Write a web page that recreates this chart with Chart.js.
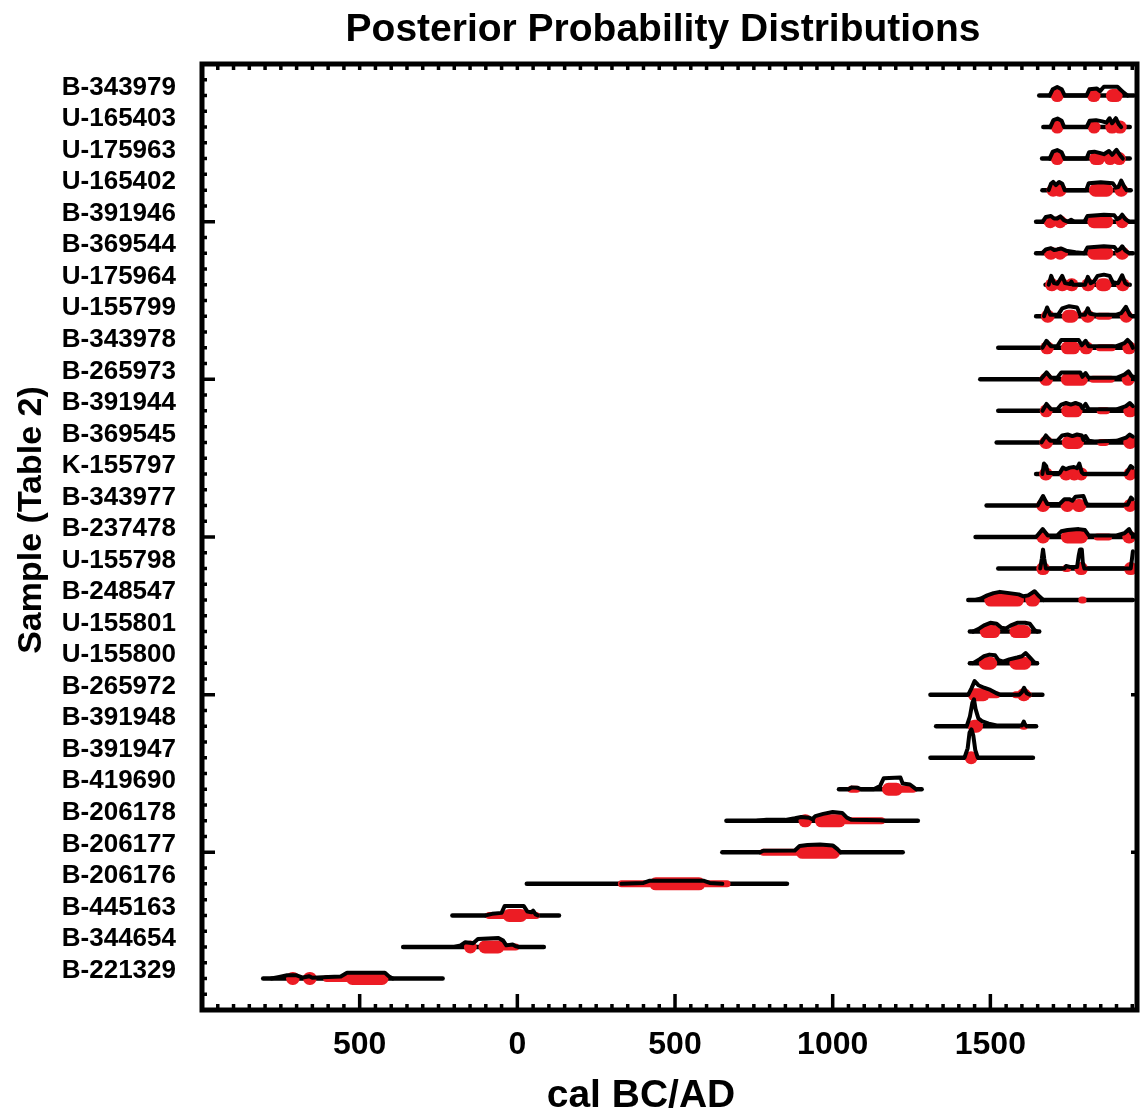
<!DOCTYPE html>
<html><head><meta charset="utf-8">
<script src="https://cdn.jsdelivr.net/npm/chart.js@4.4.1/dist/chart.umd.min.js"></script>
<style>html,body{margin:0;padding:0;background:#fff;}canvas{display:block;}</style>
</head><body>
<canvas id="c" width="1140" height="1110"></canvas>
<script>
// ---------- DATA ----------
const sampleNames = ['B-343979','U-165403','U-175963','U-165402','B-391946','B-369544','U-175964','U-155799','B-343978','B-265973','B-391944','B-369545','K-155797','B-343977','B-237478','U-155798','B-248547','U-155801','U-155800','B-265972','B-391948','B-391947','B-419690','B-206178','B-206177','B-206176','B-445163','B-344654','B-221329'];

// full extent of each distribution (cal BC/AD, BC negative)
const rangeStart = [1655,1668,1664,1665,1645,1645,1675,1645,1525,1468,1525,1520,1645,1488,1453,1525,1430,1435,1435,1310,1328,1310,1020,663,650,30,-206,-362,-806];
const rangeEnd   = [1955,1942,1942,1945,1963,1952,1942,1958,1952,1963,1952,1952,1952,1952,1963,1952,1952,1655,1648,1665,1645,1635,1282,1270,1222,855,132,84,-237];

// probability curve outline: [year, relative height]
const curves = [
 [[1688,0],[1698,0.2],[1712,0.27],[1726,0.2],[1736,0],[1805,0],[1814,0.2],[1838,0.22],[1848,0.14],[1860,0.28],[1903,0.28],[1922,0.1],[1935,0]],
 [[1690,0],[1700,0.22],[1713,0.27],[1726,0.2],[1734,0],[1805,0],[1815,0.2],[1835,0.22],[1855,0.18],[1868,0.14],[1878,0.28],[1886,0.12],[1898,0.28],[1908,0.08],[1915,0]],
 [[1688,0],[1698,0.22],[1712,0.27],[1726,0.2],[1735,0],[1805,0],[1813,0.2],[1830,0.22],[1846,0.18],[1860,0.14],[1876,0.24],[1886,0.12],[1900,0.28],[1912,0.1],[1920,0]],
 [[1685,0],[1692,0.2],[1699,0.26],[1708,0.16],[1718,0.26],[1728,0.2],[1736,0],[1804,0],[1812,0.22],[1850,0.25],[1888,0.22],[1898,0.08],[1906,0.1],[1915,0.3],[1925,0.1],[1932,0]],
 [[1666,0],[1676,0.15],[1692,0.18],[1702,0.1],[1712,0.1],[1722,0.17],[1733,0.05],[1745,0],[1756,0.06],[1766,0],[1798,0],[1808,0.18],[1860,0.22],[1893,0.2],[1902,0.08],[1910,0.12],[1918,0.22],[1928,0.08],[1940,0]],
 [[1664,0],[1676,0.12],[1692,0.16],[1702,0.1],[1712,0.12],[1725,0.15],[1740,0.08],[1770,0.03],[1798,0],[1808,0.18],[1860,0.22],[1893,0.2],[1902,0.08],[1910,0.12],[1918,0.22],[1928,0.08],[1940,0]],
 [[1685,0],[1693,0.28],[1702,0.05],[1712,0.03],[1720,0.15],[1728,0.28],[1737,0.05],[1752,0.02],[1757,0.1],[1762,0],[1800,0],[1809,0.25],[1818,0.05],[1828,0.1],[1840,0.28],[1860,0.32],[1878,0.28],[1888,0.08],[1905,0.05],[1918,0.3],[1928,0.05],[1935,0]],
 [[1670,0],[1680,0.28],[1690,0.05],[1715,0.05],[1728,0.25],[1750,0.32],[1775,0.28],[1785,0.05],[1800,0.05],[1809,0.25],[1816,0.08],[1835,0.05],[1900,0.05],[1915,0.1],[1930,0.3],[1942,0.05],[1950,0]],
 [[1665,0],[1678,0.22],[1692,0.05],[1712,0.05],[1725,0.25],[1780,0.25],[1790,0.08],[1802,0.22],[1812,0.05],[1830,0.05],[1900,0.05],[1925,0.15],[1935,0.25],[1945,0.15],[1952,0]],
 [[1660,0],[1678,0.22],[1692,0.05],[1712,0.05],[1725,0.22],[1785,0.22],[1792,0.08],[1802,0.2],[1812,0.05],[1830,0.05],[1900,0.05],[1925,0.15],[1938,0.25],[1948,0.1],[1963,0.05]],
 [[1665,0],[1678,0.22],[1692,0.05],[1712,0.05],[1725,0.2],[1740,0.25],[1755,0.2],[1770,0.25],[1785,0.2],[1792,0.08],[1802,0.22],[1812,0.05],[1830,0.05],[1900,0.05],[1930,0.15],[1942,0.25],[1952,0.15]],
 [[1662,0],[1676,0.22],[1690,0.05],[1712,0.05],[1728,0.22],[1745,0.25],[1760,0.2],[1775,0.25],[1790,0.22],[1795,0.08],[1802,0.2],[1812,0.05],[1830,0.03],[1900,0.05],[1930,0.15],[1942,0.25],[1952,0.18]],
 [[1665,0],[1670,0.33],[1677,0.25],[1682,0.03],[1720,0.03],[1730,0.2],[1740,0.15],[1752,0.2],[1765,0.22],[1775,0.18],[1782,0.33],[1790,0.05],[1795,0],[1930,0],[1945,0.25],[1951,0.2]],
 [[1650,0],[1667,0.3],[1680,0.05],[1720,0.05],[1735,0.2],[1750,0.2],[1760,0.15],[1770,0.28],[1795,0.3],[1805,0.05],[1815,0.02],[1935,0.02],[1946,0.25],[1951,0.2]],
 [[1645,0],[1666,0.25],[1682,0.05],[1712,0.05],[1725,0.18],[1745,0.22],[1780,0.25],[1800,0.22],[1812,0.05],[1900,0.05],[1925,0.12],[1940,0.25],[1948,0.1],[1963,0.05]],
 [[1658,0],[1663,0.3],[1667,0.6],[1671,0.3],[1676,0],[1735,0],[1740,0.08],[1752,0.05],[1775,0.05],[1780,0.4],[1784,0.6],[1790,0.6],[1793,0.2],[1798,0],[1945,0],[1949,0.3],[1952,0.55]],
 [[1450,0],[1470,0.05],[1490,0.15],[1510,0.22],[1530,0.26],[1560,0.22],[1590,0.18],[1605,0.12],[1620,0.15],[1640,0.28],[1655,0.12],[1668,0]],
 [[1445,0],[1465,0.1],[1480,0.2],[1500,0.28],[1520,0.25],[1535,0.12],[1550,0.1],[1565,0.2],[1585,0.28],[1610,0.28],[1625,0.25],[1640,0.05],[1648,0]],
 [[1445,0],[1465,0.12],[1480,0.22],[1497,0.27],[1515,0.25],[1525,0.1],[1540,0.05],[1560,0.12],[1585,0.18],[1600,0.22],[1612,0.32],[1625,0.18],[1640,0.02],[1648,0]],
 [[1430,0],[1440,0.2],[1450,0.43],[1462,0.3],[1480,0.22],[1500,0.15],[1518,0.05],[1530,0],[1592,0],[1600,0.08],[1607,0.22],[1615,0.05],[1625,0]],
 [[1425,0],[1435,0.3],[1443,0.75],[1448,0.85],[1453,0.55],[1462,0.25],[1475,0.15],[1495,0.08],[1520,0.02],[1600,0.02],[1606,0.15],[1610,0.05],[1615,0]],
 [[1418,0],[1428,0.3],[1434,0.8],[1440,0.9],[1446,0.7],[1452,0.25],[1460,0]],
 [[1050,0],[1060,0.06],[1078,0.05],[1090,0],[1130,0],[1150,0.1],[1162,0.35],[1215,0.37],[1222,0.18],[1245,0.15],[1258,0.05],[1265,0]],
 [[760,0],[790,0.03],[850,0.03],[880,0.08],[900,0.12],[925,0.1],[935,0.05],[945,0.15],[970,0.22],[1000,0.28],[1030,0.25],[1045,0.1],[1060,0.03],[1150,0.02],[1165,0]],
 [[770,0],[780,0.05],[880,0.06],[895,0.2],[920,0.23],[960,0.25],[1000,0.22],[1015,0.1],[1025,0]],
 [[330,0],[400,0.03],[420,0.1],[590,0.1],[610,0.03],[650,0]],
 [[-100,0],[-80,0.05],[-50,0.08],[-40,0.3],[20,0.3],[32,0.12],[45,0.1],[50,0.15],[58,0.03],[65,0]],
 [[-200,0],[-180,0.05],[-165,0.15],[-140,0.12],[-125,0.25],[-60,0.28],[-45,0.2],[-35,0.05],[-15,0.08],[-5,0.02],[5,0]],
 [[-780,0],[-755,0.05],[-730,0.1],[-700,0.1],[-680,0.03],[-660,0.07],[-650,0.02],[-600,0.05],[-560,0.06],[-540,0.18],[-420,0.18],[-405,0.05],[-395,0]]
];

// core of the high-probability (red) ranges, drawn as rounded blobs
const redThick = [
 [[1712,1714],[1827,1829],[1887,1899]],
 [[1712,1714],[1829,1831],[1885,1887],[1910,1912]],
 [[1712,1714],[1834,1843],[1880,1882],[1909,1911]],
 [[1699,1701],[1719,1721],[1833,1869],[1914,1916]],
 [[1690,1692],[1721,1723],[1828,1869],[1918,1920]],
 [[1691,1693],[1721,1723],[1828,1869],[1917,1919]],
 [[1694,1696],[1727,1729],[1757,1759],[1809,1811],[1854,1864],[1919,1921]],
 [[1681,1683],[1747,1759],[1808,1810],[1931,1933]],
 [[1679,1681],[1744,1764],[1803,1805],[1939,1941]],
 [[1676,1678],[1744,1789],[1937,1939]],
 [[1677,1679],[1745,1772],[1942,1944]],
 [[1676,1678],[1747,1776],[1942,1944]],
 [[1675,1677],[1739,1741],[1765,1767],[1788,1790],[1943,1945]],
 [[1666,1668],[1743,1745],[1779,1784],[1943,1945]],
 [[1666,1668],[1744,1789],[1939,1941]],
 [[1666,1668],[1787,1789],[1944,1946]],
 [[1501,1586],[1631,1637]],
 [[1487,1511],[1581,1609]],
 [[1484,1501],[1581,1609]],
 [[1449,1478],[1605,1607]],
 [[1449,1456]],
 [[1439,1441]],
 [[1177,1202]],
 [[912,914],[964,1021]],
 [[904,1003]],
 [[439,576]],
 [[-26,11]],
 [[-149,-147],[-103,-61]],
 [[-713,-711],[-659,-657],[-523,-429]]
];
// lower-probability (thin red) ranges
const redThin = [
 [],[],[],[],
 [[1680,1735]],[[1682,1735]],
 [],
 [[1845,1875]],[[1846,1886]],[[1825,1883]],[[1848,1868]],[[1850,1865]],
 [],[],
 [[1839,1875]],
 [[1738,1745]],
 [[1790,1794]],[],[],
 [[1497,1520],[1580,1620]],
 [[1604,1608]],[],
 [[1058,1076],[1221,1255]],
 [[1040,1155]],
 [[780,885]],
 [[330,665]],
 [[-90,60]],
 [[-42,-5]],
 [[-605,-542]]
];

const xTickValues = [-500, 0, 500, 1000, 1500];
const xTickLabels = ['500', '0', '500', '1000', '1500'];
const yMajorRows = [4, 9, 14, 19, 24];

// ---------- CHART ----------
const RED = '#ec1c24';
const FONT = '"Liberation Sans", Arial, Helvetica, sans-serif';
const datasets = [];
const common = {showLine: true, pointRadius: 0, pointHoverRadius: 0, tension: 0, fill: false};
sampleNames.forEach((name, i) => {
  datasets.push(Object.assign({}, common, {
    label: name, data: [{x: rangeStart[i], y: i}, {x: rangeEnd[i], y: i}],
    borderColor: '#000', borderWidth: 4.5, borderCapStyle: 'round', order: 4
  }));
  redThin[i].forEach(([a, b]) => datasets.push(Object.assign({}, common, {
    data: [{x: a, y: i}, {x: b, y: i}], borderColor: RED, borderWidth: 7, borderCapStyle: 'round', order: 3
  })));
  redThick[i].forEach(([a, b]) => datasets.push(Object.assign({}, common, {
    data: [{x: a, y: i}, {x: b, y: i}], borderColor: RED, borderWidth: 13, borderCapStyle: 'round', order: 2
  })));
  datasets.push(Object.assign({}, common, {
    data: curves[i].map(([x, h]) => ({x: x, y: i - h})),
    borderColor: '#000', borderWidth: 4, borderJoinStyle: 'round', borderCapStyle: 'round', order: 1
  }));
});

const framePlugin = {
  id: 'frame',
  afterDatasetsDraw(chart) {
    const {ctx, chartArea: a, scales: {x, y}} = chart;
    ctx.save();
    ctx.strokeStyle = '#000';
    ctx.lineWidth = 3.5;
    ctx.beginPath();
    for (let v = -950; v <= 1950; v += 50) {
      const px = x.getPixelForValue(v);
      const major = xTickValues.includes(v);
      ctx.moveTo(px, a.bottom); ctx.lineTo(px, a.bottom - (major ? 16 : 6));
      ctx.moveTo(px, a.top); ctx.lineTo(px, a.top + 6);
    }
    for (let r = -0.5; r <= 28.5; r += 0.5) {
      const py = y.getPixelForValue(r);
      const major = yMajorRows.includes(r);
      ctx.moveTo(a.left, py); ctx.lineTo(a.left + (major ? 13 : 5), py);
      if (major) { ctx.moveTo(a.right, py); ctx.lineTo(a.right - 6, py); }
    }
    ctx.stroke();
    ctx.lineWidth = 5;
    ctx.strokeRect(a.left, a.top, a.right - a.left, a.bottom - a.top);
    ctx.restore();
  },
  afterDraw(chart) {
    const ctx = chart.ctx;
    ctx.save();
    ctx.fillStyle = '#000';
    ctx.textAlign = 'center';
    ctx.textBaseline = 'alphabetic';
    ctx.font = 'bold 39px ' + FONT;
    ctx.fillText('Posterior Probability Distributions', 663, 41);
    ctx.fillText('cal BC/AD', 641, 1107);
    ctx.translate(41, 520);
    ctx.rotate(-Math.PI / 2);
    ctx.font = 'bold 34px ' + FONT;
    ctx.fillText('Sample (Table 2)', 0, 0);
    ctx.restore();
  }
};

Chart.defaults.color = '#000';
new Chart(document.getElementById('c'), {
  type: 'scatter',
  data: {datasets},
  options: {
    responsive: false,
    animation: false,
    events: [],
    layout: {padding: {top: 64, right: 3, bottom: 0, left: 0}},
    plugins: {legend: {display: false}, tooltip: {enabled: false}, title: {display: false}},
    scales: {
      x: {
        type: 'linear', position: 'bottom', min: -1000, max: 1965,
        grid: {display: false, drawTicks: false}, border: {display: false},
        afterBuildTicks: s => { s.ticks = xTickValues.map(v => ({value: v})); },
        afterFit: s => { s.height = 100; },
        ticks: {
          callback: (v, idx) => xTickLabels[idx],
          font: {family: FONT, size: 32, weight: 'bold'}, color: '#000',
          padding: 16, maxRotation: 0, autoSkip: false
        }
      },
      y: {
        type: 'linear', position: 'left', min: -1, max: 29, reverse: true,
        grid: {display: false, drawTicks: false}, border: {display: false},
        afterBuildTicks: s => { s.ticks = sampleNames.map((n, i) => ({value: i})); },
        afterFit: s => { s.width = 202; },
        ticks: {
          callback: v => sampleNames[v] !== undefined ? sampleNames[v] : '',
          font: {family: FONT, size: 26, weight: 'bold'}, color: '#000',
          padding: 26, labelOffset: -8, autoSkip: false
        }
      }
    }
  },
  plugins: [framePlugin]
});
</script>
</body></html>
